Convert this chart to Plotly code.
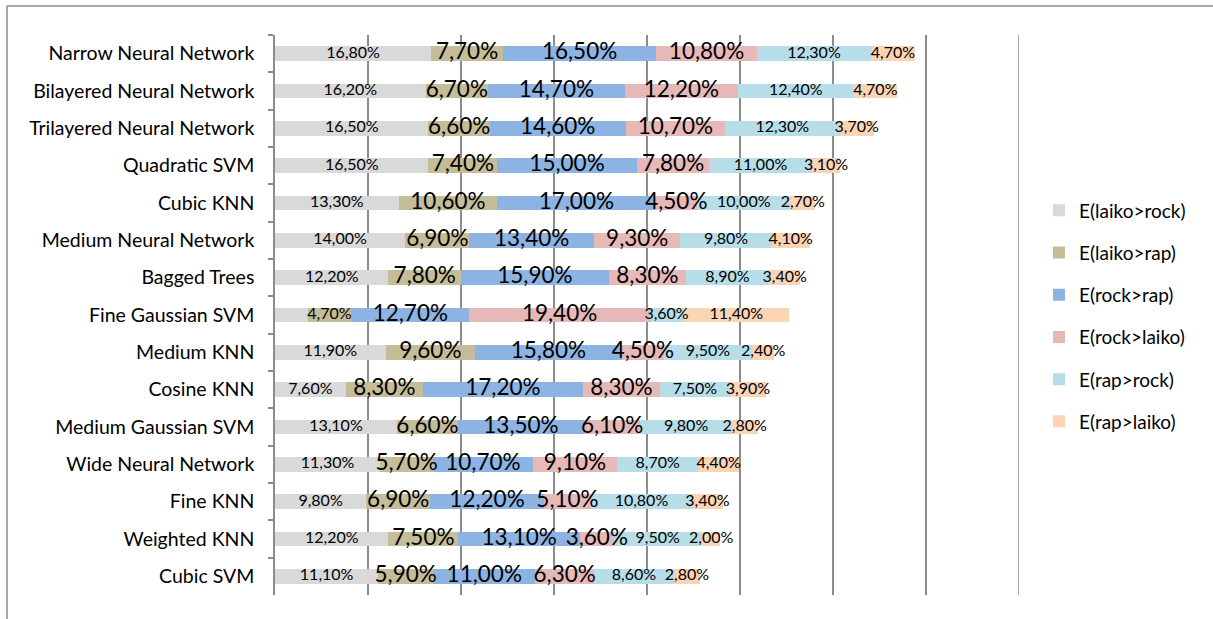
import plotly.graph_objects as go

categories = [
    "Narrow Neural Network", "Bilayered Neural Network", "Trilayered Neural Network",
    "Quadratic SVM", "Cubic KNN", "Medium Neural Network", "Bagged Trees",
    "Fine Gaussian SVM", "Medium KNN", "Cosine KNN", "Medium Gaussian SVM",
    "Wide Neural Network", "Fine KNN", "Weighted KNN", "Cubic SVM",
]

series_names = ["E(laiko>rock)", "E(laiko>rap)", "E(rock>rap)",
                "E(rock>laiko)", "E(rap>rock)", "E(rap>laiko)"]

laiko_rock = [16.8, 16.2, 16.5, 16.5, 13.3, 14.0, 12.2, 3.5, 11.9, 7.6, 13.1, 11.3, 9.8, 12.2, 11.1]
laiko_rap = [7.7, 6.7, 6.6, 7.4, 10.6, 6.9, 7.8, 4.7, 9.6, 8.3, 6.6, 5.7, 6.9, 7.5, 5.9]
rock_rap = [16.5, 14.7, 14.6, 15.0, 17.0, 13.4, 15.9, 12.7, 15.8, 17.2, 13.5, 10.7, 12.2, 13.1, 11.0]
rock_laiko = [10.8, 12.2, 10.7, 7.8, 4.5, 9.3, 8.3, 19.4, 4.5, 8.3, 6.1, 9.1, 5.1, 3.6, 6.3]
rap_rock = [12.3, 12.4, 12.3, 11.0, 10.0, 9.8, 8.9, 3.6, 9.5, 7.5, 9.8, 8.7, 10.8, 9.5, 8.6]
rap_laiko = [4.7, 4.7, 3.7, 3.1, 2.7, 4.1, 3.4, 11.4, 2.4, 3.9, 2.8, 4.4, 3.4, 2.0, 2.8]

# label of laiko>rock is not shown for Fine Gaussian SVM in the original
hidden_labels = {(0, "Fine Gaussian SVM")}
# labels drawn in the small font although their series uses the large one
small_label_exceptions = {(1, "Fine Gaussian SVM")}

series_values = [laiko_rock, laiko_rap, rock_rap, rock_laiko, rap_rock, rap_laiko]
colors = ["#D9D9D9", "#C4BD97", "#8DB3E2", "#E6B9B8", "#B7DEE8", "#FBD4B4"]
SMALL, LARGE = 16, 22.5
series_label_size = [SMALL, LARGE, LARGE, LARGE, SMALL, SMALL]

FONT = "Lato"

fig = go.Figure()
base = [0.0] * len(categories)
for i, (name, vals, col) in enumerate(zip(series_names, series_values, colors)):
    fig.add_trace(go.Bar(
        y=categories, x=vals, base=base, orientation="h", name=name,
        marker=dict(color=col, line=dict(width=0)),
        legendgroup=name, hoverinfo="x+name",
    ))
    centers = [b + v / 2 for b, v in zip(base, vals)]
    texts, sizes = [], []
    for c, v in zip(categories, vals):
        texts.append("" if (i, c) in hidden_labels else f"{v:.2f}".replace(".", ",") + "%")
        sizes.append(SMALL if (i, c) in small_label_exceptions else series_label_size[i])
    fig.add_trace(go.Scatter(
        y=categories, x=centers, mode="text", text=texts,
        textposition="middle center",
        textfont=dict(family=FONT, size=sizes, color="#000000"),
        showlegend=False, hoverinfo="skip", cliponaxis=False,
    ))
    base = [b + v for b, v in zip(base, vals)]

# plot area in pixels: x 275..1019, y 35..595
W, H = 1213, 619
L, R, T, B = 275, 1019, 35, 595
def px_x(p):
    return (p - L) / (R - L)
def px_y(p):
    return 1 - (p - T) / (B - T)

GRID = "#8C8C8C"
fig.update_layout(
    width=W, height=H,
    margin=dict(l=L, r=W - R, t=T, b=H - B, pad=0),
    paper_bgcolor="white", plot_bgcolor="white",
    barmode="stack", bargap=0.6,
    font=dict(family=FONT, color="#000000"),
    showlegend=True,
    legend=dict(
        x=px_x(1039), y=px_y(316), xanchor="left", yanchor="middle",
        traceorder="grouped", tracegroupgap=14.5,
        font=dict(family=FONT, size=19, color="#000000"),
        bgcolor="rgba(0,0,0,0)",
    ),
    xaxis=dict(
        range=[0, 80], dtick=10, showticklabels=False, ticks="",
        showgrid=True, gridcolor=GRID, gridwidth=1.5,
        zeroline=False, showline=False, fixedrange=True,
    ),
    yaxis=dict(
        range=[len(categories) - 0.5, -0.5], showline=True, linecolor=GRID, linewidth=1.5,
        ticks="outside", ticklen=5, tickcolor=GRID, tickwidth=1.5,
        tickson="boundaries", showgrid=False,
        tickfont=dict(family=FONT, size=19.5, color="#000000"),
        ticklabelstandoff=15,
    ),
    shapes=[
        dict(type="line", xref="x", yref="paper", x0=80, x1=80, y0=0, y1=1,
             line=dict(color=GRID, width=1.5)),
        dict(type="line", xref="paper", yref="paper",
             x0=px_x(7), x1=px_x(1213), y0=px_y(6), y1=px_y(6),
             line=dict(color=GRID, width=1.5)),
        dict(type="line", xref="paper", yref="paper",
             x0=px_x(7), x1=px_x(7), y0=px_y(6), y1=px_y(619),
             line=dict(color=GRID, width=1.5)),
    ],
)

fig.write_html("out.html")
